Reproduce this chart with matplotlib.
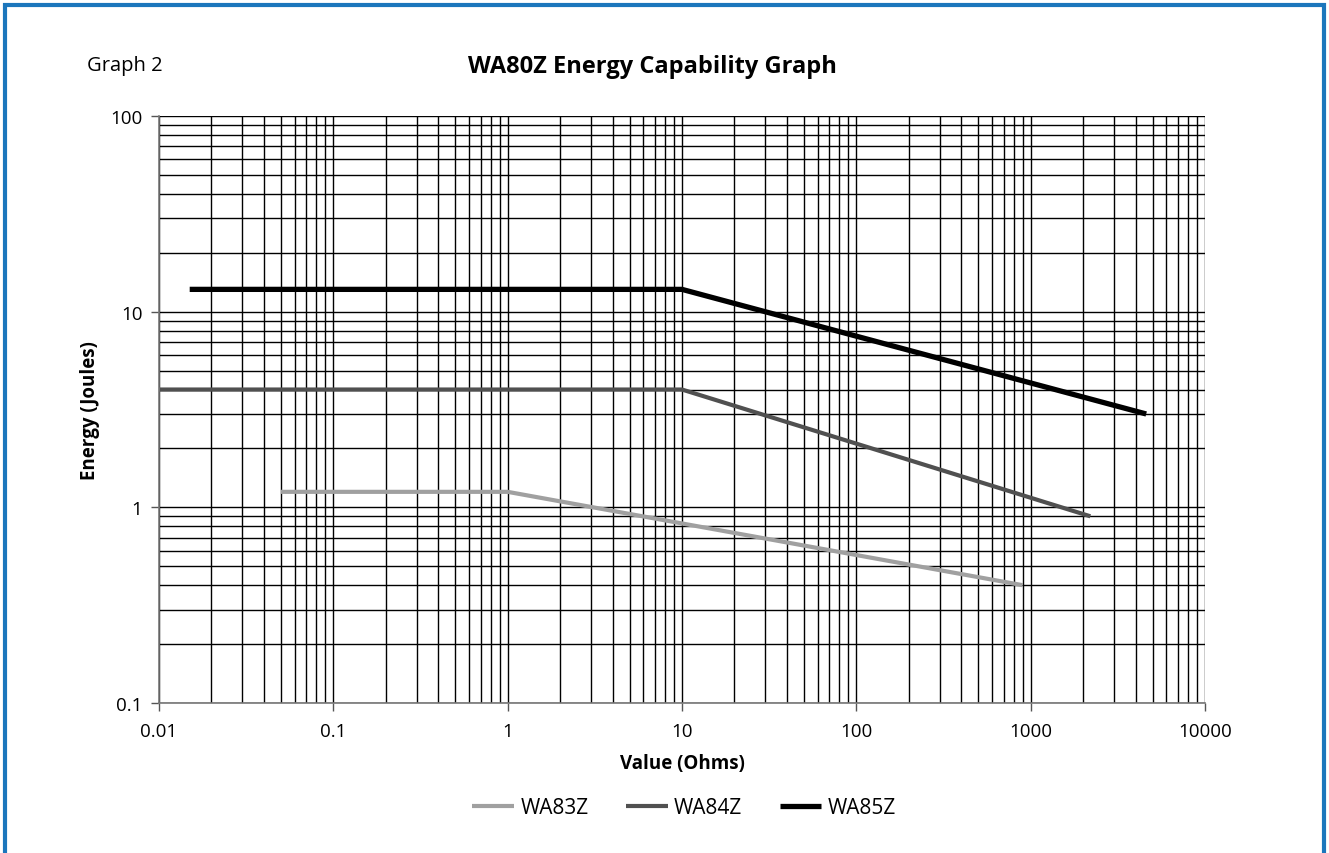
import matplotlib.pyplot as plt
from matplotlib.patches import Rectangle
from matplotlib.ticker import LogLocator, FixedLocator, FixedFormatter, NullFormatter

plt.rcParams['font.family'] = ['Open Sans', 'DejaVu Sans']

# --- data ---
wa83z_ohms = [0.05, 1, 900]
wa83z_joules = [1.2, 1.2, 0.4]
wa84z_ohms = [0.01, 10, 2200]
wa84z_joules = [4.0, 4.0, 0.9]
wa85z_ohms = [0.015, 10, 4600]
wa85z_joules = [13.0, 13.0, 3.0]

x_ticks = [0.01, 0.1, 1, 10, 100, 1000, 10000]
x_labels = ["0.01", "0.1", "1", "10", "100", "1000", "10000"]
y_ticks = [0.1, 1, 10, 100]
y_labels = ["0.1", "1", "10", "100"]

fig = plt.figure(figsize=(13.29, 8.54), dpi=100)
ax = fig.add_axes([159 / 1329, 1 - 704 / 854, 1046 / 1329, 587 / 854])

ax.set_xscale("log")
ax.set_yscale("log")
ax.set_xlim(0.01, 10000)
ax.set_ylim(0.1, 100)

# grid (major + minor, black)
ax.grid(True, which="both", color="black", linewidth=1.0)
ax.set_axisbelow(True)

ax.plot(wa83z_ohms, wa83z_joules, color="#a0a0a0", lw=3.0, label="WA83Z", solid_capstyle="butt")
ax.plot(wa84z_ohms, wa84z_joules, color="#505050", lw=3.0, label="WA84Z", solid_capstyle="butt")
ax.plot(wa85z_ohms, wa85z_joules, color="black", lw=3.8, label="WA85Z", solid_capstyle="butt")

ax.xaxis.set_major_locator(FixedLocator(x_ticks))
ax.xaxis.set_major_formatter(FixedFormatter(x_labels))
ax.yaxis.set_major_locator(FixedLocator(y_ticks))
ax.yaxis.set_major_formatter(FixedFormatter(y_labels))
ax.xaxis.set_minor_locator(LogLocator(base=10, subs=range(2, 10), numticks=20))
ax.yaxis.set_minor_locator(LogLocator(base=10, subs=range(2, 10), numticks=20))
ax.xaxis.set_minor_formatter(NullFormatter())
ax.yaxis.set_minor_formatter(NullFormatter())
ax.tick_params(which="major", direction="out", length=6, width=1, color="#555555",
               labelsize=13.5, pad=6)
ax.tick_params(which="minor", length=0)
ax.tick_params(axis="x", pad=8)

for s in ["top", "right"]:
    ax.spines[s].set_visible(False)
for s in ["left", "bottom"]:
    ax.spines[s].set_color("#777777")
    ax.spines[s].set_linewidth(1.2)

ax.set_xlabel("Value (Ohms)", fontsize=13.5, fontweight="bold", labelpad=9)
ax.set_ylabel("Energy (Joules)", fontsize=13.5, fontweight="bold", labelpad=7)

fig.text(652 / 1329, 1 - 67 / 854, "WA80Z Energy Capability Graph", ha="center", va="center",
         fontsize=17, fontweight="bold")
fig.text(87 / 1329, 1 - 66 / 854, "Graph 2", ha="left", va="center", fontsize=14.5)

fig.legend(loc="center", bbox_to_anchor=(684 / 1329, 1 - 809 / 854), ncol=3, frameon=False,
           fontsize=15, handlelength=2.0, columnspacing=1.8, handletextpad=0.3)

# blue frame round the figure
fig.patches.append(Rectangle((5 / 1329, -0.05), 1319 / 1329, 1.05 - 6 / 854,
                             transform=fig.transFigure, fill=False,
                             edgecolor="#1b76bc", linewidth=3))

fig.savefig("out.png", dpi=100)
